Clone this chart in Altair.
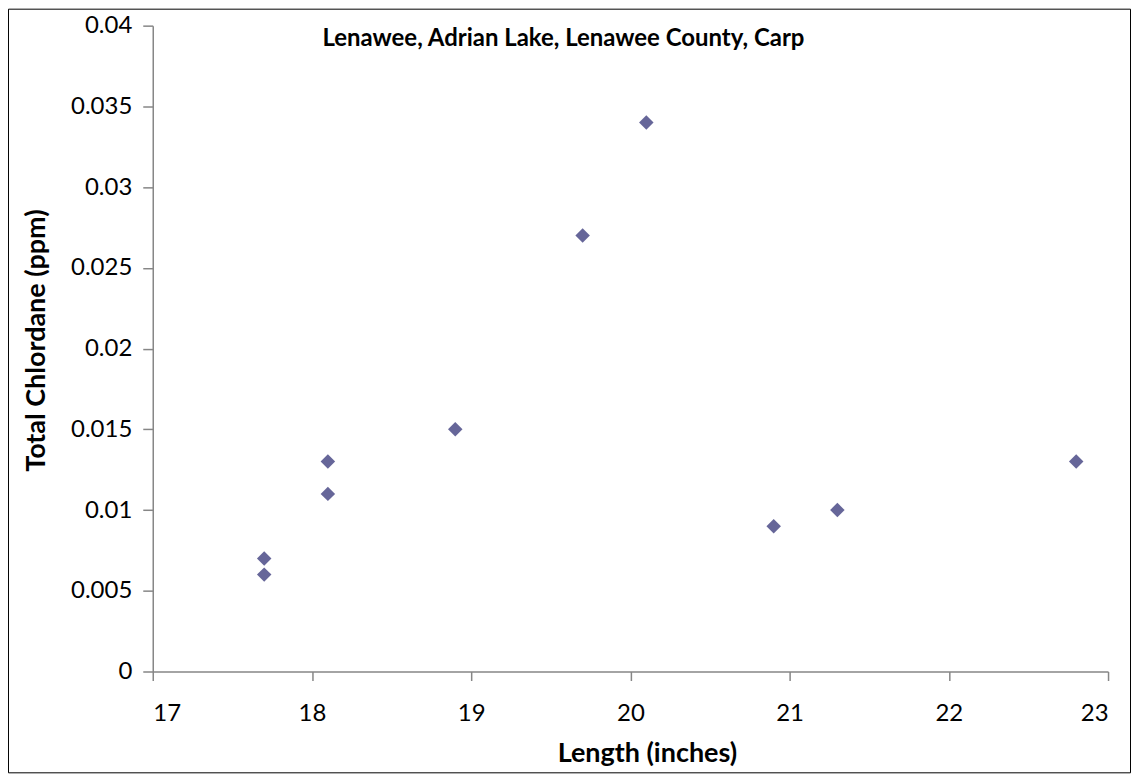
import altair as alt
import pandas as pd

length_in = [17.7, 17.7, 18.1, 18.1, 18.9, 19.7, 20.1, 20.9, 21.3, 22.8]
chlordane = [0.007, 0.006, 0.013, 0.011, 0.015, 0.027, 0.034, 0.009, 0.010, 0.013]
x_ticks = [17, 18, 19, 20, 21, 22, 23]
y_ticks = [0, 0.005, 0.01, 0.015, 0.02, 0.025, 0.03, 0.035, 0.04]

df = pd.DataFrame({"Length": length_in, "Chlordane": chlordane})

FONT = "Lato"
W, H = 957, 647
PL, PT, PR, PB = 145, 17, 23, 102

points = alt.Chart(df).mark_point(
    shape="diamond", filled=True, size=210, color="#666699", opacity=1
).encode(
    x=alt.X("Length:Q", scale=alt.Scale(domain=[17, 23], nice=False, zero=False),
            axis=alt.Axis(values=x_ticks, title="Length (inches)", format="d",
                          grid=False, tickSize=9, labelPadding=21,
                          titleX=495, titleY=90, titleBaseline="alphabetic",
                          titleAlign="center")),
    y=alt.Y("Chlordane:Q", scale=alt.Scale(domain=[0, 0.04], nice=False),
            axis=alt.Axis(values=y_ticks, title="Total Chlordane (ppm)", format="~g",
                          grid=False, tickSize=10, labelPadding=11,
                          titleX=-108, titleY=315, titleBaseline="alphabetic",
                          titleAlign="center", titleAngle=270)),
)

border = alt.Chart(alt.Data(values=[{}])).mark_rect(
    fill=None, stroke="#000000", strokeWidth=1
).encode(
    x=alt.value(-PL + 0.5), x2=alt.value(W + PR - 0.5),
    y=alt.value(-PT + 0.5), y2=alt.value(H + PB - 0.5),
)

chart = alt.layer(points, border).properties(
    width=W, height=H,
    autosize=alt.AutoSizeParams(type="none"),
    padding={"left": PL, "top": PT, "right": PR, "bottom": PB},
    title=alt.TitleParams(
        "Lenawee, Adrian Lake, Lenawee County, Carp",
        font=FONT, fontSize=24, fontWeight="bold", color="#000000",
        anchor="start", orient="top", offset=-42, dx=315, baseline="top",
    ),
).configure_view(stroke=None).configure_axis(
    domainColor="#868686", tickColor="#868686", labelFont=FONT, titleFont=FONT,
    labelFontSize=24, titleFontSize=27, labelColor="#000000", titleColor="#000000",
    titleFontWeight="bold", domainWidth=1.5, tickWidth=1.5,
)

chart.save("out.html", embed_options={"renderer": "svg", "actions": False})
